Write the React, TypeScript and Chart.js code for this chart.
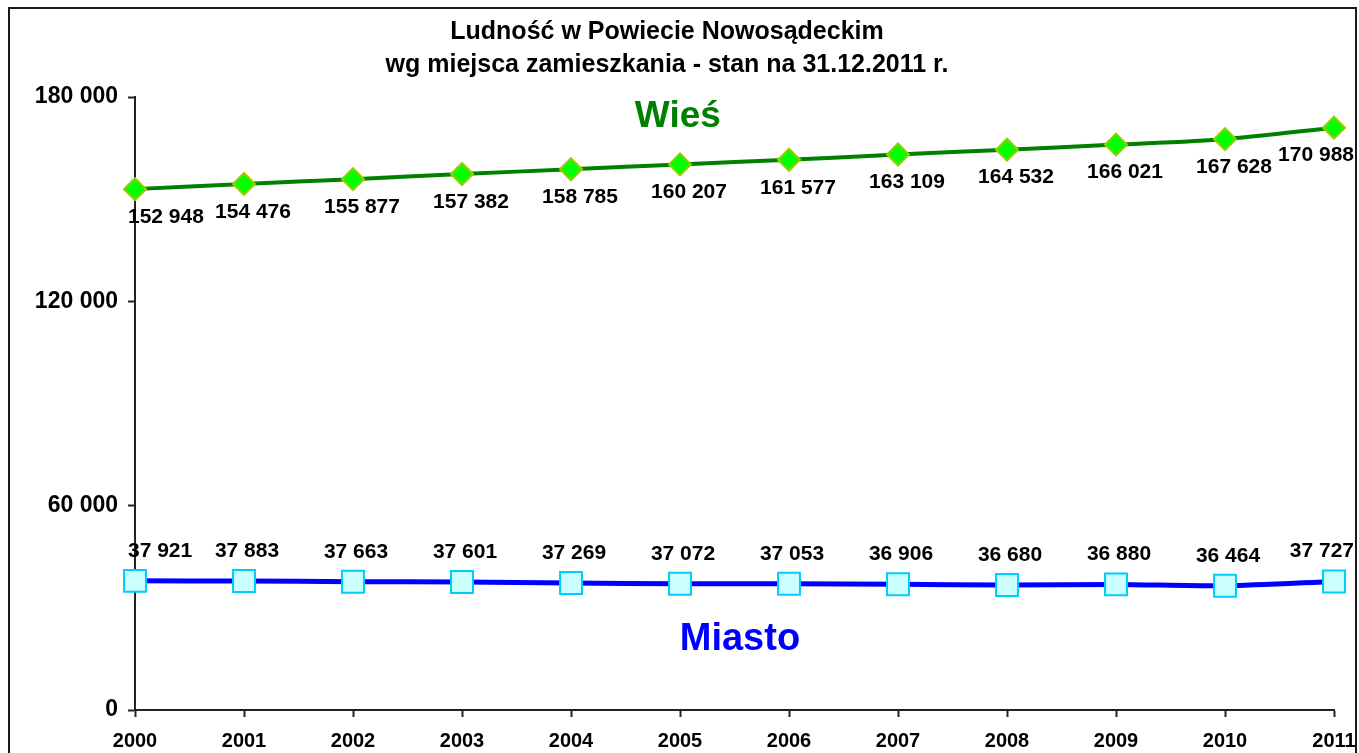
import React, { useEffect, useRef } from "react";
import { Chart, registerables } from "chart.js";

Chart.register(...registerables);

const years = ["2000", "2001", "2002", "2003", "2004", "2005", "2006", "2007", "2008", "2009", "2010", "2011"];
const wiesValues = [152948, 154476, 155877, 157382, 158785, 160207, 161577, 163109, 164532, 166021, 167628, 170988];
const miastoValues = [37921, 37883, 37663, 37601, 37269, 37072, 37053, 36906, 36680, 36880, 36464, 37727];
const titleLines = ["Ludność w Powiecie Nowosądeckim", "wg miejsca zamieszkania - stan na 31.12.2011 r."];
const seriesNames = ["Wieś", "Miasto"];

const FONT = "'Liberation Sans', Arial, sans-serif";
const fmt = (n: number) => String(n).replace(/\B(?=(\d{3})+(?!\d))/g, " ");

const framePlugin = {
  id: "frame",
  beforeDraw(chart: any) {
    const ctx = chart.ctx;
    ctx.save();
    ctx.fillStyle = "#ffffff";
    ctx.fillRect(0, 0, chart.width, chart.height);
    ctx.strokeStyle = "#1a1a1a";
    ctx.lineWidth = 2;
    ctx.strokeRect(9, 8, chart.width - 12, chart.height + 40);
    ctx.restore();
  },
};

const labelsPlugin = {
  id: "valueLabels",
  afterDatasetsDraw(chart: any) {
    const ctx = chart.ctx;
    const area = chart.chartArea;
    ctx.save();
    ctx.font = `bold 21px ${FONT}`;
    ctx.fillStyle = "#000";
    ctx.textBaseline = "middle";
    ctx.textAlign = "center";
    chart.data.datasets.forEach((ds: any, di: number) => {
      const meta = chart.getDatasetMeta(di);
      meta.data.forEach((pt: any, i: number) => {
        const txt = fmt(ds.data[i]);
        const w = ctx.measureText(txt).width;
        let x = pt.x + (di === 0 ? 9 : 3);
        let y = di === 0 ? pt.y + 28 : pt.y - 30;
        const minX = area.left - 7 + w / 2;
        const maxX = chart.width - 5 - w / 2;
        x = Math.max(minX, Math.min(maxX, x));
        ctx.fillText(txt, x, y);
      });
    });
    const xs = chart.scales.x;
    const ys = chart.scales.y;
    ctx.font = `bold 37px ${FONT}`;
    ctx.fillStyle = "#008000";
    ctx.fillText(seriesNames[0], xs.getPixelForValue(4.98), ys.getPixelForValue(174300));
    ctx.font = `bold 38px ${FONT}`;
    ctx.fillStyle = "#0000FF";
    ctx.fillText(seriesNames[1], xs.getPixelForValue(5.55), ys.getPixelForValue(20700));
    ctx.restore();
  },
};

export default function App() {
  const ref = useRef<HTMLCanvasElement | null>(null);
  useEffect(() => {
    if (!ref.current) return;
    const chart = new Chart(ref.current, {
      type: "line",
      data: {
        labels: years,
        datasets: [
          {
            label: seriesNames[0],
            data: wiesValues,
            borderColor: "#008000",
            borderWidth: 4,
            tension: 0.25,
            pointStyle: "rectRot",
            pointRadius: 11,
            pointBackgroundColor: "#00FF00",
            pointBorderColor: "#99CC00",
            pointBorderWidth: 2,
          },
          {
            label: seriesNames[1],
            data: miastoValues,
            borderColor: "#0000FF",
            borderWidth: 5,
            tension: 0.25,
            pointStyle: "rect",
            pointRadius: 15.5,
            pointBackgroundColor: "#CCFFFF",
            pointBorderColor: "#00CCFF",
            pointBorderWidth: 2,
          },
        ],
      },
      options: {
        animation: false,
        responsive: true,
        maintainAspectRatio: false,
        layout: { padding: { top: 0, right: 25, left: 0, bottom: 0 } },
        plugins: {
          legend: { display: false },
          tooltip: { enabled: false },
          title: {
            display: true,
            text: titleLines,
            color: "#000",
            font: { family: FONT, size: 25, weight: "bold", lineHeight: 1.32 },
            padding: { top: 16, bottom: 15 },
          },
        },
        scales: {
          x: {
            offset: false,
            grid: { display: true, drawOnChartArea: false, tickLength: 7, color: "#222", tickWidth: 2 },
            border: { display: true, color: "#222", width: 2 },
            ticks: { color: "#000", font: { family: FONT, size: 20, weight: "bold" }, padding: 12, maxRotation: 0, autoSkip: false },
            afterFit: (s: any) => {
              s.height = 43;
              s.paddingRight = 0;
              s.paddingLeft = 0;
            },
          },
          y: {
            min: 0,
            max: 180000,
            grid: { display: true, drawOnChartArea: false, tickLength: 7, color: "#222", tickWidth: 2 },
            border: { display: true, color: "#222", width: 2 },
            ticks: {
              stepSize: 60000,
              color: "#000",
              font: { family: FONT, size: 23, weight: "bold" },
              padding: 10,
              callback: (v: any) => fmt(Number(v)),
            },
            afterFit: (s: any) => { s.width = 135; },
          },
        },
      },
      plugins: [framePlugin, labelsPlugin],
    });
    return () => chart.destroy();
  }, []);
  return (
    <div style={{ position: "fixed", left: 0, top: 0, width: 1359, height: 753, background: "#fff" }}>
      <canvas ref={ref} />
    </div>
  );
}
